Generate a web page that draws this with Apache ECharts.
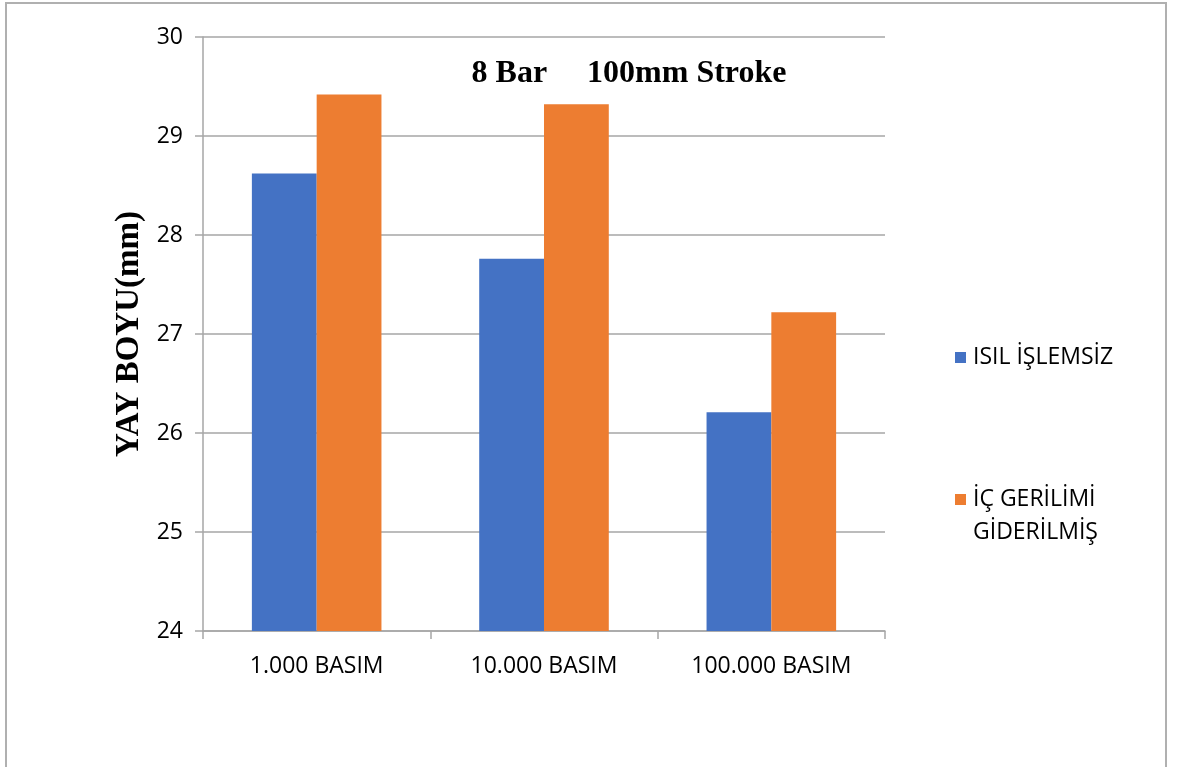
<!DOCTYPE html>
<html>
<head>
<meta charset="utf-8">
<script src="https://cdn.jsdelivr.net/npm/echarts@6/dist/echarts.min.js"></script>
<style>
  html, body { margin: 0; padding: 0; background: #ffffff; }
  #chart { width: 1181px; height: 767px; }
</style>
</head>
<body>
<div id="chart"></div>
<script>
// Spring length after repeated pressing, 8 bar / 100 mm stroke
const categories = ['1.000 BASIM', '10.000 BASIM', '100.000 BASIM'];
const seriesNames = ['ISIL İŞLEMSİZ', 'İÇ GERİLİMİ GİDERİLMİŞ'];
const untreated = [28.62, 27.76, 26.21];
const stressRelieved = [29.42, 29.32, 27.22];
const yTicks = { min: 24, max: 30, step: 1 };

const SANS = '"Open Sans", "Noto Sans", sans-serif';
const SERIF = '"Liberation Serif", "DejaVu Serif", serif';
const AXIS_GRAY = '#a6a6a6';

const chart = echarts.init(document.getElementById('chart'), null, { renderer: 'canvas' });

chart.setOption({
  animation: false,
  backgroundColor: '#ffffff',
  graphic: [
    {
      type: 'rect',
      z: -10,
      shape: { x: 6, y: 3, width: 1160, height: 820 },
      style: { fill: 'none', stroke: '#b0b0b0', lineWidth: 2 }
    }
  ],
  title: {
    text: '8 Bar     100mm Stroke',
    left: 624,
    top: 53,
    textAlign: 'center',
    textStyle: { fontFamily: SERIF, fontWeight: 'bold', fontSize: 32, color: '#000000' }
  },
  legend: [
    {
      data: [seriesNames[0]],
      left: 950,
      top: 341,
      orient: 'vertical',
      itemWidth: 11,
      itemHeight: 11,
      icon: 'rect',
      textStyle: { fontFamily: SANS, fontSize: 23, color: '#000000', padding: [0, 0, 0, 2] }
    },
    {
      data: [seriesNames[1]],
      left: 950,
      top: 445,
      orient: 'vertical',
      itemWidth: 11,
      itemHeight: 11,
      icon: 'rect',
      // leading blank line keeps the swatch level with the first text line
      formatter: function () { return '\nİÇ GERİLİMİ\nGİDERİLMİŞ'; },
      textStyle: {
        fontFamily: SANS, fontSize: 23, color: '#000000', lineHeight: 33,
        padding: [0, 0, 0, 2]
      }
    }
  ],
  grid: { left: 203, right: 296, top: 37, bottom: 136, containLabel: false },
  xAxis: {
    type: 'category',
    data: categories,
    axisLine: { show: true, lineStyle: { color: AXIS_GRAY, width: 1.5 } },
    axisTick: { show: true, length: 8, alignWithLabel: false, lineStyle: { color: AXIS_GRAY, width: 1.5 } },
    axisLabel: { fontFamily: SANS, fontSize: 23, color: '#000000', margin: 24 },
    splitLine: { show: false }
  },
  yAxis: {
    type: 'value',
    min: yTicks.min,
    max: yTicks.max,
    interval: yTicks.step,
    name: 'YAY BOYU(mm)',
    nameLocation: 'middle',
    nameGap: 57,
    nameRotate: 90,
    nameTextStyle: { fontFamily: SERIF, fontWeight: 'bold', fontSize: 33, color: '#000000' },
    axisLine: { show: true, lineStyle: { color: AXIS_GRAY, width: 1.5 } },
    axisTick: { show: true, length: 8, lineStyle: { color: AXIS_GRAY, width: 1.5 } },
    axisLabel: { fontFamily: SANS, fontSize: 23, color: '#000000', margin: 20 },
    splitLine: { show: true, lineStyle: { color: AXIS_GRAY, width: 1.5 } }
  },
  series: [
    {
      name: seriesNames[0],
      type: 'bar',
      data: untreated,
      itemStyle: { color: '#4472C4' },
      barGap: '0%',
      barCategoryGap: '43%'
    },
    {
      name: seriesNames[1],
      type: 'bar',
      data: stressRelieved,
      itemStyle: { color: '#ED7D31' },
      barGap: '0%',
      barCategoryGap: '43%'
    }
  ]
});
</script>
</body>
</html>
